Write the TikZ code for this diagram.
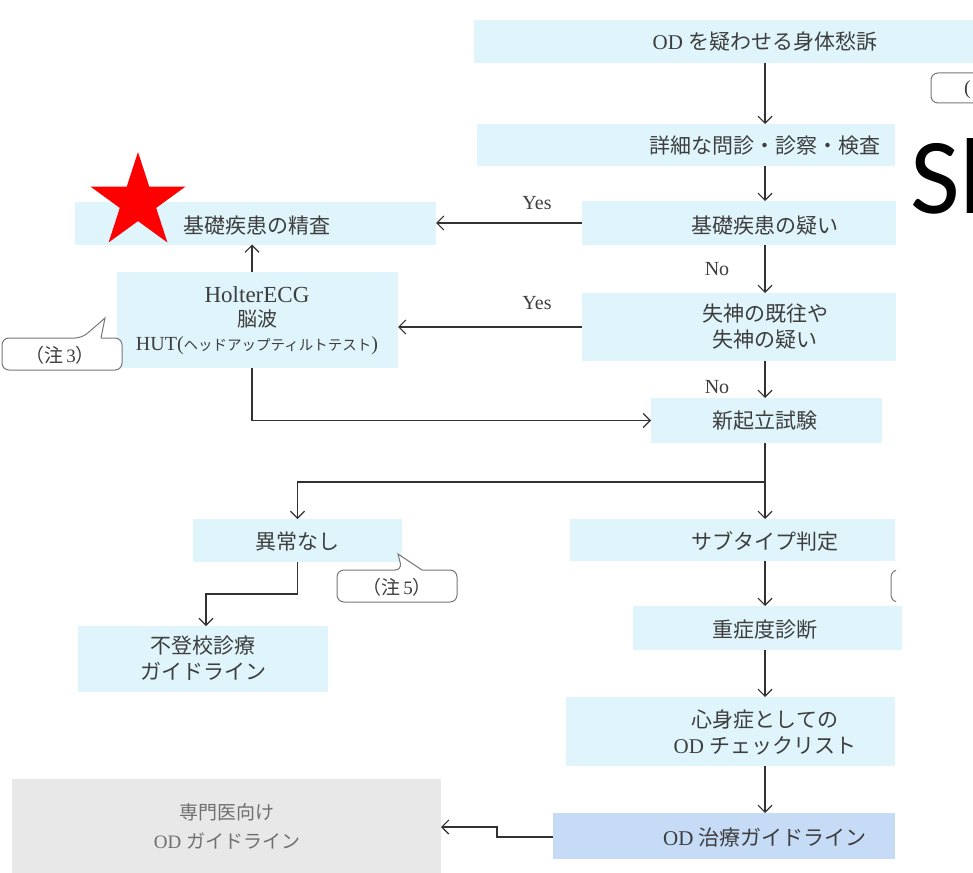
\documentclass[tikz,border=0pt]{standalone}
\usepackage{fontspec}
\setmainfont{Liberation Serif}
\newfontfamily\cjk{Noto Sans CJK JP}
\newfontfamily\slfont{Carlito}
\usetikzlibrary{arrows.meta}
\definecolor{boxblue}{RGB}{223,245,251}
\definecolor{boxdeep}{RGB}{197,219,246}
\definecolor{boxgray}{RGB}{232,232,232}
\definecolor{txt}{RGB}{62,62,62}
\definecolor{graytxt}{RGB}{112,112,112}
\definecolor{linec}{RGB}{50,50,50}
\definecolor{callc}{RGB}{120,120,120}
\newcommand{\J}[1]{{\cjk #1}}
\begin{document}
\begin{tikzpicture}[x=1pt,y=-1pt,
  panel/.style={fill=boxblue, draw=none, inner sep=0pt, outer sep=0pt},
  txtnode/.style={text=txt, align=center, inner sep=0pt, font=\fontsize{21}{26}\selectfont},
  arr/.style={draw=linec, line width=1.2pt, -{Straight Barb[length=7pt,width=14pt]}},
  link/.style={draw=linec, line width=1.2pt},
  callout/.style={draw=callc, line width=1pt, fill=white},
  yn/.style={text=txt, inner sep=0pt, font=\fontsize{20}{24}\selectfont}
]
\useasboundingbox (0,0) rectangle (973,872);
\clip (0,0) rectangle (973,872);
\fill[white] (0,0) rectangle (973,872);

% boxes
\node[panel, minimum width=582pt, minimum height=43pt] (b1) at (765,41.5) {};
\node[panel, minimum width=418pt, minimum height=42pt] (b2) at (686,145) {};
\node[panel, minimum width=314pt, minimum height=44pt] (b3) at (739,223) {};
\node[panel, minimum width=314pt, minimum height=68pt] (b4) at (739,327) {};
\node[panel, minimum width=231pt, minimum height=45pt] (b5) at (766.5,420.5) {};
\node[panel, minimum width=325pt, minimum height=42pt] (b6) at (732.5,540) {};
\node[panel, minimum width=269pt, minimum height=44pt] (b7) at (767.5,628) {};
\node[panel, minimum width=329pt, minimum height=69pt] (b8) at (730.5,731.5) {};
\node[panel, fill=boxdeep, minimum width=342pt, minimum height=46pt] (b9) at (724,836) {};
\node[panel, fill=boxgray, minimum width=429pt, minimum height=101pt] (gr) at (226.5,829.5) {};
\node[panel, minimum width=361pt, minimum height=43pt] (k1) at (255.5,223) {};
\node[panel, minimum width=281pt, minimum height=96pt] (hb) at (257.5,320) {};
\node[panel, minimum width=209pt, minimum height=43pt] (nb) at (297.5,540.5) {};
\node[panel, minimum width=250pt, minimum height=66pt] (fb) at (203,659) {};

% texts
\node[txtnode] (t1) at (765,42) {OD \J{を疑わせる身体愁訴}};
\node[txtnode] (t2) at (765,146) {\J{詳細な問診・診察・検査}};
\node[txtnode] (t3) at (765,226) {\J{基礎疾患の疑い}};
\node[txtnode] (t4) at (765,327) {\J{失神の既往や}\\\J{失神の疑い}};
\node[txtnode] (t5) at (765,421) {\J{新起立試験}};
\node[txtnode] (t6) at (765,541) {\J{サブタイプ判定}};
\node[txtnode] (t7) at (765,630) {\J{重症度診断}};
\node[txtnode] (t8) at (765,732) {\J{心身症としての}\\OD \J{チェックリスト}};
\node[txtnode] (t9) at (765,838) {OD \J{治療ガイドライン}};
\node[txtnode, text=graytxt, font=\fontsize{19}{29}\selectfont] (tg) at (227,826) {\J{専門医向け}\\OD \J{ガイドライン}};
\node[txtnode] (tk) at (257,226) {\J{基礎疾患の精査}};
\node[txtnode, font=\fontsize{20}{24}\selectfont] (th) at (257,321)
  {{\fontsize{23}{24}\selectfont HolterECG}\\\J{脳波}\\HUT(\J{\fontsize{14.5}{24}\selectfont ヘッドアップティルトテスト})};
\node[txtnode] (tn) at (297,542) {\J{異常なし}};
\node[txtnode] (tf) at (203,658) {\J{不登校診療}\\\J{ガイドライン}};

% Yes / No labels
\node[yn] (y1) at (537,203) {Yes};
\node[yn] (y2) at (537,303) {Yes};
\node[yn] (n1) at (717,269) {No};
\node[yn] (n2) at (717,387) {No};

% helper coordinates
\coordinate (sp) at (765,0);
\coordinate (fork) at (765,482);
\coordinate (hx) at (252,0);
\coordinate (fx) at (206,0);
\coordinate (nbend) at (297.5,594);
\coordinate (gstep) at (497,0);
\coordinate (glow) at (0,837);
\coordinate (ghigh) at (0,827);

% connectors
\draw[arr] (sp |- b1.south) -- (sp |- b2.north);
\draw[arr] (sp |- b2.south) -- (sp |- b3.north);
\draw[arr] (sp |- b3.south) -- (sp |- b4.north);
\draw[arr] (sp |- b4.south) -- (sp |- b5.north);
\draw[arr] (sp |- b5.south) -- (sp |- b6.north);
\draw[arr] (sp |- b6.south) -- (sp |- b7.north);
\draw[arr] (sp |- b7.south) -- (sp |- b8.north);
\draw[arr] (sp |- b8.south) -- (sp |- b9.north);
\draw[arr] (fork) -- (fork -| nb.north) -- (nb.north);
\draw[arr] (b3.west) -- (k1.east);
\draw[arr] (b4.west) -- (b4.west -| hb.east);
\draw[arr] (hx |- hb.north) -- (hx |- k1.south);
\draw[arr] (hx |- hb.south) -- (hx |- b5.west) -- (b5.west);
\draw[arr] (nb.south) -- (nbend) -- (nbend -| fx) -- (fx |- fb.north);
\draw[arr] (b9.west |- glow) -- (gstep |- glow) -- (gstep |- ghigh) -- (gr.east |- ghigh);

% callouts
\draw[callout] (101,338) [rounded corners=7pt] -- (122,338) -- (122,370) -- (2,370) -- (2,338) -- (82,338) [sharp corners] -- (105,318) -- (101,338);
\node[txtnode, font=\fontsize{19}{24}\selectfont] (c3) at (60,355) {\J{（注}\,3\J{）}};
\draw[callout] (422,570) [rounded corners=7pt] -- (457,570) -- (457,602) -- (337,602) -- (337,570) -- (402,570) [sharp corners] -- (398,554) -- (422,570);
\node[txtnode, font=\fontsize{19}{24}\selectfont] (c5) at (397,587) {\J{（注}\,5\J{）}};
\draw[callout, rounded corners=7pt] (931,73) rectangle (1010,103);
\node[txtnode, font=\fontsize{20}{24}\selectfont, anchor=west] (c0) at (964,90) {(};
\begin{scope}
  \clip (880,560) rectangle (896,612);
  \draw[callout, rounded corners=7pt] (891,570) rectangle (960,602);
\end{scope}

% star
\begin{scope}[shift={(138,202)}]
  \fill[red] (-90:50) -- (-54:19.1) -- (-18:50) -- (18:19.1) -- (54:50) -- (90:19.1)
    -- (126:50) -- (162:19.1) -- (198:50) -- (234:19.1) -- cycle;
\end{scope}

% big partial text (cut off at the right edge, as in the reference)
\node[inner sep=0pt, anchor=base west, font=\slfont\fontsize{108}{110}\selectfont] (sl) at (910,213) {Sl};
\end{tikzpicture}
\end{document}
